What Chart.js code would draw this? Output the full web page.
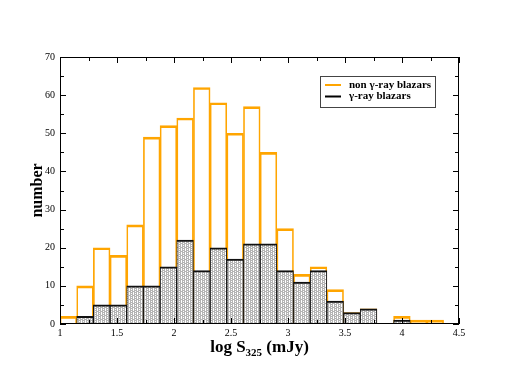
<!DOCTYPE html>
<html>
<head>
<meta charset="utf-8">
<script src="https://cdn.jsdelivr.net/npm/chart.js@4.4.0/dist/chart.umd.min.js"></script>
<style>
  html, body { margin: 0; padding: 0; background: #fff; }
  #wrap { width: 518px; height: 382px; }
</style>
</head>
<body>
<div id="wrap"><canvas id="histChart" width="518" height="382"></canvas></div>
<script>
// histogram bins (log S325)
const binStart = 1.0;
const binWidth = 0.1463;
const nonGammaCounts = [2, 10, 20, 18, 26, 49, 52, 54, 62, 58, 50, 57, 45, 25, 13, 15, 9, 3, 4, 0, 2, 1, 1];
const gammaCounts    = [0, 2, 5, 5, 10, 10, 15, 22, 14, 20, 17, 21, 21, 14, 11, 14, 6, 3, 4, 0, 1, 0, 0];
const legendLabels = ['non \u03b3-ray blazars', '\u03b3-ray blazars'];
const xTickValues = [1, 1.5, 2, 2.5, 3, 3.5, 4, 4.5];
const yTickValues = [0, 10, 20, 30, 40, 50, 60, 70];

const serif = '"Liberation Serif", "DejaVu Serif", serif';

function toPoints(counts) {
    return counts.map((c, i) => ({ x: binStart + (i + 0.5) * binWidth, y: c }));
}

// dotted gray fill like the xmgrace pattern
function makePattern() {
    const p = document.createElement('canvas');
    p.width = 4; p.height = 4;
    const c = p.getContext('2d');
    c.fillStyle = '#b4b4b4';
    c.fillRect(0, 0, 4, 4);
    c.fillStyle = '#ffffff';
    c.fillRect(1, 0, 1, 3);
    c.fillRect(3, 1, 1, 1);
    c.fillRect(3, 3, 1, 1);
    return document.getElementById('histChart').getContext('2d').createPattern(p, 'repeat');
}

// frame, inward ticks, axis titles and the boxed legend
const decorPlugin = {
    id: 'decor',
    afterDatasetsDraw(chart) {
        const { ctx, chartArea: a, scales } = chart;
        const xs = scales.x, ys = scales.y;
        ctx.save();
        ctx.strokeStyle = '#000';
        ctx.lineWidth = 1;
        ctx.strokeRect(a.left + 0.5, a.top + 0.5, a.right - a.left - 1, a.bottom - a.top - 1);

        ctx.beginPath();
        for (let v = 1; v <= 4.5001; v += 0.25) {
            const px = Math.round(xs.getPixelForValue(v)) + 0.5;
            const len = (Math.abs(v * 2 - Math.round(v * 2)) < 0.01) ? 6 : 4;
            ctx.moveTo(px, a.bottom); ctx.lineTo(px, a.bottom - len);
            ctx.moveTo(px, a.top); ctx.lineTo(px, a.top + len);
        }
        for (let v = 0; v <= 70; v += 5) {
            const py = Math.round(ys.getPixelForValue(v)) + 0.5;
            const len = (v % 10 === 0) ? 6 : 4;
            ctx.moveTo(a.left, py); ctx.lineTo(a.left + len, py);
            ctx.moveTo(a.right, py); ctx.lineTo(a.right - len, py);
        }
        ctx.stroke();

        // y title
        ctx.fillStyle = '#000';
        ctx.font = 'bold 16px ' + serif;
        ctx.textAlign = 'center';
        ctx.textBaseline = 'middle';
        ctx.save();
        ctx.translate(38, (a.top + a.bottom) / 2);
        ctx.rotate(-Math.PI / 2);
        ctx.fillText('number', 0, 0);
        ctx.restore();

        // x title with subscript
        ctx.textBaseline = 'alphabetic';
        ctx.textAlign = 'left';
        const part1 = 'log S', sub = '325', part2 = ' (mJy)';
        ctx.font = 'bold 17px ' + serif;
        const w1 = ctx.measureText(part1).width;
        const w3 = ctx.measureText(part2).width;
        ctx.font = 'bold 11px ' + serif;
        const w2 = ctx.measureText(sub).width;
        let tx = (a.left + a.right) / 2 - (w1 + w2 + w3) / 2;
        const base = 352;
        ctx.font = 'bold 17px ' + serif;
        ctx.fillText(part1, tx, base);
        ctx.font = 'bold 11px ' + serif;
        ctx.fillText(sub, tx + w1, base + 4);
        ctx.font = 'bold 17px ' + serif;
        ctx.fillText(part2, tx + w1 + w2, base);

        // legend
        ctx.fillStyle = '#fff';
        ctx.fillRect(320, 76, 115, 31);
        ctx.strokeStyle = '#444';
        ctx.strokeRect(320.5, 76.5, 115, 31);
        const colors = ['#ffa500', '#000'];
        ctx.font = 'bold 11px ' + serif;
        ctx.textBaseline = 'middle';
        legendLabels.forEach((lab, i) => {
            const y = 85 + i * 11.5;
            ctx.strokeStyle = colors[i];
            ctx.lineWidth = 2;
            ctx.beginPath();
            ctx.moveTo(325, y); ctx.lineTo(341, y);
            ctx.stroke();
            ctx.fillStyle = '#000';
            ctx.fillText(lab, 349, y);
        });
        ctx.restore();
    }
};

new Chart(document.getElementById('histChart'), {
    type: 'bar',
    data: {
        datasets: [
            {
                label: legendLabels[0],
                data: toPoints(nonGammaCounts),
                backgroundColor: 'rgba(255,255,255,0)',
                borderColor: '#ffa500',
                borderWidth: { top: 2, left: 1, right: 1, bottom: 0 },
                borderSkipped: 'start',
                grouped: false,
                order: 2
            },
            {
                label: legendLabels[1],
                data: toPoints(gammaCounts),
                backgroundColor: makePattern(),
                borderColor: '#111',
                borderWidth: { top: 2, left: 1, right: 1, bottom: 0 },
                borderSkipped: 'start',
                grouped: false,
                order: 1
            }
        ]
    },
    options: {
        responsive: false,
        animation: false,
        barPercentage: 1,
        categoryPercentage: 1,
        layout: { padding: { top: 57, right: 59, left: 0, bottom: 0 } },
        plugins: { legend: { display: false }, tooltip: { enabled: false } },
        scales: {
            x: {
                type: 'linear',
                offset: false,
                min: 1,
                max: 4.5,
                afterBuildTicks: s => { s.ticks = xTickValues.map(v => ({ value: v })); },
                afterFit: s => { s.height = 58; },
                grid: { display: false, drawTicks: false, offset: false },
                border: { display: false },
                ticks: {
                    padding: 3,
                    color: '#000',
                    font: { family: serif, size: 10 },
                    maxRotation: 0,
                    callback: v => String(+v.toFixed(2))
                }
            },
            y: {
                min: 0,
                max: 70,
                afterBuildTicks: s => { s.ticks = yTickValues.map(v => ({ value: v })); },
                afterFit: s => { s.width = 60; },
                grid: { display: false, drawTicks: false },
                border: { display: false },
                ticks: {
                    padding: 5,
                    color: '#000',
                    font: { family: serif, size: 10 }
                }
            }
        }
    },
    plugins: [decorPlugin]
});
</script>
</body>
</html>
